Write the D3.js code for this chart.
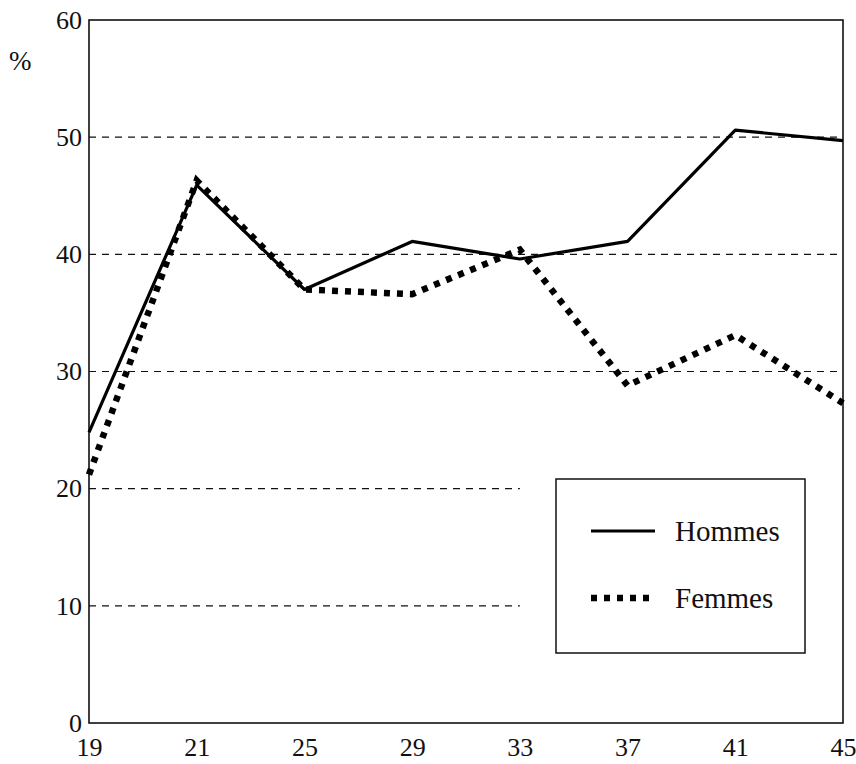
<!DOCTYPE html>
<html>
<head>
<meta charset="utf-8">
<script src="https://cdn.jsdelivr.net/npm/d3@7"></script>
<style>
  body { margin: 0; background: #fff; }
  svg text { font-family: "Liberation Serif", "DejaVu Serif", serif; fill: #111; }
</style>
</head>
<body>
<div id="chart"></div>
<script>
// ages on the x axis (evenly spaced categories)
const ages = ["19", "21", "25", "29", "33", "37", "41", "45"];
const hommes = [24.8, 45.9, 37.0, 41.1, 39.6, 41.1, 50.6, 49.7];
const femmes = [21.2, 46.3, 37.0, 36.6, 40.4, 28.8, 33.1, 27.3];
const yTicks = [0, 10, 20, 30, 40, 50, 60];
const fullGrid = [30, 40, 50];   // gridlines across whole width
const shortGrid = [10, 20];      // gridlines stopping before the legend
const legendItems = ["Hommes", "Femmes"];

const W = 856, H = 764;
const m = {top: 20, right: 13, bottom: 41, left: 89};
const w = W - m.left - m.right, h = H - m.top - m.bottom;

const svg = d3.select("#chart").append("svg")
    .attr("width", W).attr("height", H)
    .attr("viewBox", `0 0 ${W} ${H}`);
const g = svg.append("g").attr("transform", `translate(${m.left},${m.top})`);

const x = d3.scalePoint().domain(ages).range([0, w]);
const y = d3.scaleLinear().domain([0, 60]).range([h, 0]);

// dashed gridlines
g.append("g").selectAll("line")
    .data(fullGrid.map(v => ({v, x2: w})).concat(shortGrid.map(v => ({v, x2: x("33")}))))
    .join("line")
    .attr("x1", 0).attr("x2", d => d.x2)
    .attr("y1", d => y(d.v)).attr("y2", d => y(d.v))
    .attr("stroke", "#111").attr("stroke-width", 1.2)
    .attr("stroke-dasharray", "7,6");

// frame
g.append("rect").attr("width", w).attr("height", h)
    .attr("fill", "none").attr("stroke", "#111").attr("stroke-width", 1.6);

// axes
const yAxis = g.append("g").call(d3.axisLeft(y).tickValues(yTicks).tickSize(0).tickPadding(7));
yAxis.select(".domain").remove();
yAxis.selectAll("text").attr("font-size", 26).attr("font-family", "Liberation Serif").attr("fill", "#111");

const xAxis = g.append("g").attr("transform", `translate(0,${h})`)
    .call(d3.axisBottom(x).tickSize(0).tickPadding(15));
xAxis.select(".domain").remove();
xAxis.selectAll("text").attr("font-size", 26).attr("font-family", "Liberation Serif").attr("fill", "#111");

svg.append("text").attr("x", 9).attr("y", 70).attr("font-size", 27).text("%");

// lines
const line = d3.line().x((d, i) => x(ages[i])).y(d => y(d));

g.append("path").datum(hommes)
    .attr("d", line).attr("fill", "none")
    .attr("stroke", "#000").attr("stroke-width", 3.2)
    .attr("stroke-linejoin", "round");

g.append("path").datum(femmes)
    .attr("d", line).attr("fill", "none")
    .attr("stroke", "#000").attr("stroke-width", 6.5)
    .attr("stroke-dasharray", "6,7");

// legend
const lg = svg.append("g").attr("transform", "translate(556,479)");
lg.append("rect").attr("width", 249).attr("height", 174)
    .attr("fill", "#fff").attr("stroke", "#111").attr("stroke-width", 1.5);

const li = lg.selectAll("g.item").data(legendItems).join("g")
    .attr("class", "item")
    .attr("transform", (d, i) => `translate(0,${52 + i * 67})`);
li.append("line").attr("x1", 35).attr("x2", 99)
    .attr("stroke", "#000")
    .attr("stroke-width", (d, i) => i ? 6.5 : 3.2)
    .attr("stroke-dasharray", (d, i) => i ? "6,7" : null);
li.append("text").attr("x", 119).attr("y", 10)
    .attr("font-size", 29).text(d => d);
</script>
</body>
</html>
